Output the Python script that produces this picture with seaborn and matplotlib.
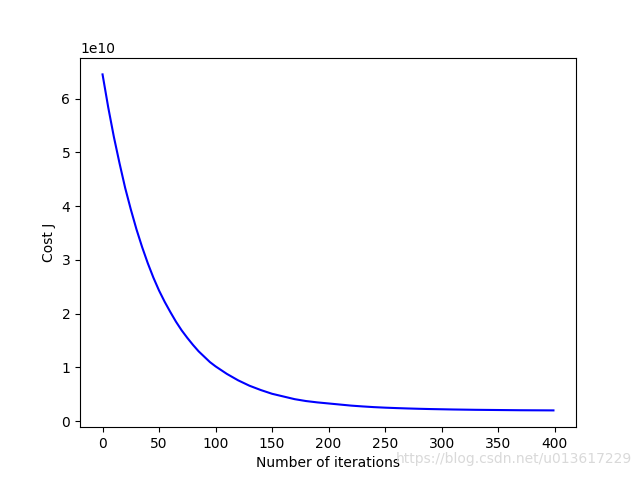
import numpy as np
import pandas as pd
import matplotlib
matplotlib.use("Agg")
import matplotlib.pyplot as plt
import seaborn as sns

# cost J (in units of 1e10)
iterations = [0, 5, 10, 15, 20, 25, 30, 35, 40, 45, 50, 55, 60, 65, 70, 75, 80, 85, 90, 95,
              100, 105, 110, 115, 120, 125, 130, 135, 140, 145, 150, 160, 170, 180, 190,
              200, 210, 220, 230, 240, 250, 260, 270, 280, 290,
              300, 310, 320, 330, 340, 350, 360, 370, 380, 390, 399]
cost_e10 = [6.45, 5.84, 5.29, 4.80, 4.34, 3.94, 3.57, 3.24, 2.94, 2.67, 2.43, 2.22, 2.03, 1.85,
            1.69, 1.55, 1.42, 1.30, 1.20, 1.10,
            1.02, 0.95, 0.88, 0.82, 0.76, 0.71, 0.66, 0.62, 0.58, 0.545, 0.51, 0.46, 0.41, 0.375, 0.35,
            0.33, 0.31, 0.29, 0.275, 0.262, 0.252, 0.244, 0.237, 0.231, 0.226,
            0.222, 0.218, 0.215, 0.212, 0.210, 0.208, 0.206, 0.204, 0.203, 0.202, 0.201]

df = pd.DataFrame({"iter": iterations, "cost": np.array(cost_e10) * 1e10})

fig, ax = plt.subplots(figsize=(6.4, 4.8), dpi=100)
sns.lineplot(data=df, x="iter", y="cost", color="b", ax=ax)
ax.set_xlabel("Number of iterations")
ax.set_ylabel("Cost J")

# watermark
fig.text(0.987, 0.03, "https://blog.csdn.net/u013617229", ha="right", va="bottom",
         fontsize=10, color="#d9d9d9")

fig.savefig("out.png", dpi=100)
